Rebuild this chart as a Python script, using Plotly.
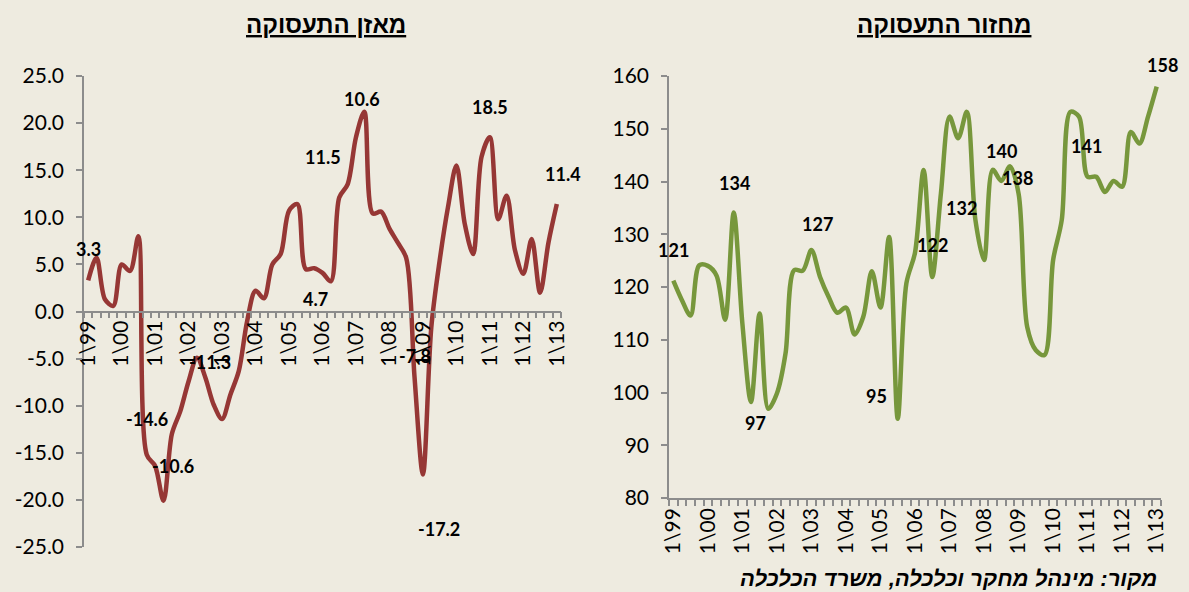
import plotly.graph_objects as go

# ---------------- data ----------------
YEAR_LABELS = ["1\\99", "1\\00", "1\\01", "1\\02", "1\\03", "1\\04", "1\\05", "1\\06",
               "1\\07", "1\\08", "1\\09", "1\\10", "1\\11", "1\\12", "1\\13"]

balance = [3.3, 5.7, 1.3, 0.6, 5.0, 4.3, 8.0, -15.2, -16.4, -20.1,
           -13.0, -10.6, -7.4, -4.9, -7.0, -9.9, -11.4, -8.8, -6.3, -1.0,
           2.2, 1.4, 5.0, 6.1, 10.7, 11.4, 4.5, 4.6, 4.1, 3.2,
           12.1, 13.5, 18.5, 21.2, 10.4, 10.6, 8.8, 7.3, 5.7, -7.0,
           -17.3, -1.7, 5.4, 11.1, 15.5, 9.3, 6.1, 16.4, 18.5, 9.8,
           12.3, 6.5, 4.0, 7.7, 2.0, 7.3, 11.4]

turnover = [121.2, 117.5, 114.6, 124.1, 124.0, 122.2, 113.8, 134.1, 113.1, 98.2,
            115.0, 96.9, 99.8, 107.4, 123.2, 123.1, 127.0, 121.9, 118.1, 115.1,
            116.1, 111.0, 114.3, 123.0, 116.1, 129.5, 95.0, 120.7, 126.5, 142.2,
            121.9, 137.7, 152.3, 148.2, 153.2, 132.7, 125.1, 142.2, 140.1, 142.9,
            137.7, 112.4, 108.0, 107.1, 125.1, 132.7, 153.2, 152.3, 140.9, 140.9,
            138.0, 140.1, 139.0, 149.4, 147.2, 152.3, 158.0]

LEFT_Y_TICKS = [25, 20, 15, 10, 5, 0, -5, -10, -15, -20, -25]
RIGHT_Y_TICKS = [160, 150, 140, 130, 120, 110, 100, 90, 80]

left_label_idx = [0, 7, 8, 13, 27, 25, 33, 39, 40, 48, 56]
left_label_text = ["3.3", "-14.6", "-10.6", "-11.3", "4.7", "11.5", "10.6", "-7.8", "-17.2", "18.5", "11.4"]
right_label_idx = [0, 7, 11, 16, 26, 30, 35, 38, 40, 48, 56]
right_label_text = ["121", "134", "97", "127", "95", "122", "132", "140", "138", "141", "158"]

TITLE_LEFT = "מאזן התעסוקה"
TITLE_RIGHT = "מחזור התעסוקה"
SOURCE = "מקור: מינהל מחקר וכלכלה, משרד הכלכלה"

# ---------------- styles / layout ----------------
W, H = 1189, 592
BG = "#EEEBE0"
RED = "#963735"
GREEN = "#77973C"
AXIS = "#8C8C8C"
NUM_FONT = "Lato, Carlito, Liberation Sans, sans-serif"
HEB_FONT = "Liberation Sans, DejaVu Sans, sans-serif"
TICK_SIZE = 21

left_label_shift = [(0, -31), (0, -36), (18, 0), (13, 4), (1, 31), (26, -47),
                    (-2, -13), (0, -21), (16, 55), (0, -30), (6, -30)]
right_label_shift = [(0, -31), (1, -30), (-13, 14), (6, -26), (-21, -23), (0, -32),
                     (-14, -12), (0, -30), (-1, -16), (-1, -31), (6, -22)]

def px_x(p):
    return p / W

def px_y(p):
    return 1 - p / H

L_X = [px_x(84), px_x(561)]
L_Y = [px_y(547), px_y(76)]
R_X = [px_x(669), px_x(1161)]
R_Y = [px_y(498), px_y(76)]

n = len(balance)
xs = list(range(n))
label_pos = list(range(0, n, 4))

fig = go.Figure()
fig.add_trace(go.Scatter(x=xs, y=balance, mode="lines", xaxis="x", yaxis="y",
                         line=dict(color=RED, width=4.5, shape="spline", smoothing=0.9),
                         hoverinfo="skip", showlegend=False))
fig.add_trace(go.Scatter(x=xs, y=turnover, mode="lines", xaxis="x2", yaxis="y2",
                         line=dict(color=GREEN, width=4.5, shape="spline", smoothing=0.9),
                         hoverinfo="skip", showlegend=False))

xaxis_common = dict(
    range=[-0.5, n - 0.5], tickmode="array", tickvals=label_pos, ticktext=YEAR_LABELS,
    tickangle=-90, ticks="", showline=True, linecolor=AXIS, linewidth=1.5,
    showgrid=False, zeroline=False, automargin=False, fixedrange=True,
    tickfont=dict(family=NUM_FONT, size=TICK_SIZE, color="#000"),
    minor=dict(tickmode="linear", tick0=-0.5, dtick=1, ticks="outside",
               ticklen=6, tickcolor=AXIS, tickwidth=1.5, showgrid=False),
)

yaxis_common = dict(
    tickmode="array", ticks="outside", ticklen=6, tickcolor=AXIS, tickwidth=1.5,
    showline=True, linecolor=AXIS, linewidth=1.5, showgrid=False,
    zeroline=False, automargin=False, fixedrange=True, ticklabelstandoff=8,
    tickfont=dict(family=NUM_FONT, size=TICK_SIZE, color="#000"),
)

fig.update_layout(
    width=W, height=H, autosize=False,
    margin=dict(l=0, r=0, t=0, b=0),
    paper_bgcolor=BG, plot_bgcolor=BG,
    xaxis=dict(xaxis_common, domain=L_X, anchor="free",
               position=(L_Y[0] + L_Y[1]) / 2),
    yaxis=dict(yaxis_common, domain=L_Y, range=[-25, 25], tickvals=LEFT_Y_TICKS,
               ticktext=[f"{v:.1f}" for v in LEFT_Y_TICKS], anchor="x"),
    xaxis2=dict(xaxis_common, domain=R_X, anchor="y2"),
    yaxis2=dict(yaxis_common, domain=R_Y, range=[80, 160], tickvals=RIGHT_Y_TICKS,
                ticktext=[str(v) for v in RIGHT_Y_TICKS], anchor="x2"),
)

ann = []
for i, t, (dx, dy) in zip(left_label_idx, left_label_text, left_label_shift):
    ann.append(dict(x=i, y=balance[i], xref="x", yref="y", text=f"<b>{t}</b>",
                    showarrow=False, xshift=dx, yshift=-dy,
                    font=dict(family=NUM_FONT, size=18, color="#000")))
for i, t, (dx, dy) in zip(right_label_idx, right_label_text, right_label_shift):
    ann.append(dict(x=i, y=turnover[i], xref="x2", yref="y2", text=f"<b>{t}</b>",
                    showarrow=False, xshift=dx, yshift=-dy,
                    font=dict(family=NUM_FONT, size=18, color="#000")))

ann.append(dict(x=px_x(326), y=px_y(24), xref="paper", yref="paper",
                xanchor="center", yanchor="middle",
                text=f"<b><u>{TITLE_LEFT}</u></b>", showarrow=False,
                font=dict(family=HEB_FONT, size=24, color="#000")))
ann.append(dict(x=px_x(944), y=px_y(24), xref="paper", yref="paper",
                xanchor="center", yanchor="middle",
                text=f"<b><u>{TITLE_RIGHT}</u></b>", showarrow=False,
                font=dict(family=HEB_FONT, size=24, color="#000")))
ann.append(dict(x=px_x(1159), y=px_y(578), xref="paper", yref="paper",
                xanchor="right", yanchor="middle",
                text=f"<b><i>{SOURCE}</i></b>", showarrow=False,
                font=dict(family=HEB_FONT, size=22, color="#000")))

fig.update_layout(annotations=ann)
fig.write_html("out.html", config={"displayModeBar": False},
               post_script="document.body.style.margin='0';document.body.style.overflow='hidden';")
